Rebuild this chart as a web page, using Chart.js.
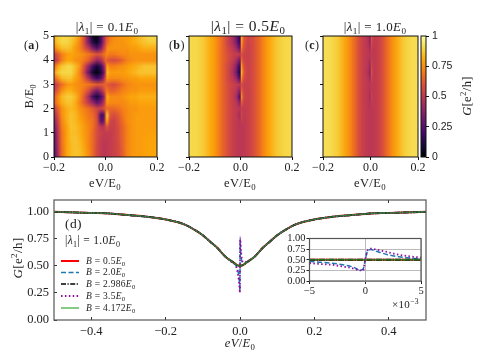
<!DOCTYPE html>
<html>
<head>
<meta charset="utf-8">
<script src="https://cdn.jsdelivr.net/npm/chart.js@4"></script>
<style>
html, body { margin: 0; padding: 0; background: #fff; overflow: hidden; }
#wrap { position: relative; width: 484px; height: 363px; }
#wrap div { position: absolute; left: 0; top: 0; width: 484px; height: 363px; }
</style>
</head>
<body>
<div id="wrap">
<div><canvas id="panelA" width="484" height="363"></canvas></div>
<div><canvas id="panelB" width="484" height="363"></canvas></div>
<div><canvas id="panelC" width="484" height="363"></canvas></div>
<div><canvas id="colorBar" width="484" height="363"></canvas></div>
<div><canvas id="panelD" width="484" height="363"></canvas></div>
<div><canvas id="inset" width="484" height="363"></canvas></div>
</div>
<script>
// values
const fieldTicks = [0, 1, 2, 3, 4, 5];
const fieldRows = [5, 4.75, 4.5, 4.25, 4, 3.75, 3.5, 3.25, 3, 2.75, 2.5, 2.25, 2, 1.75, 1.5, 1.25, 1, 0.75, 0.5, 0.25, 0];

const voltsA = [-0.2, -0.183, -0.167, -0.15, -0.133, -0.117, -0.1, -0.083, -0.067, -0.05, -0.033, -0.017, -0.004, 0, 0.004, 0.017, 0.033, 0.05, 0.067, 0.083, 0.1, 0.117, 0.133, 0.15, 0.167, 0.183, 0.2];
const mapA = [
  [.82,.88,.90,.90,.89,.85,.76,.60,.34,.06,.02,.22,.45,.58,.62,.70,.74,.76,.78,.78,.80,.82,.85,.88,.90,.90,.90],
  [.80,.87,.90,.90,.87,.82,.72,.58,.36,.12,.06,.22,.45,.60,.66,.72,.76,.76,.76,.78,.80,.82,.84,.86,.88,.88,.88],
  [.70,.80,.85,.86,.84,.78,.72,.62,.52,.34,.24,.36,.55,.64,.75,.76,.76,.76,.76,.76,.78,.78,.80,.82,.82,.82,.82],
  [.52,.62,.72,.78,.80,.78,.76,.74,.70,.64,.60,.62,.68,.72,.74,.70,.70,.72,.74,.74,.76,.76,.76,.76,.76,.76,.76],
  [.46,.58,.72,.80,.80,.76,.74,.70,.64,.52,.40,.46,.58,.68,.62,.60,.58,.60,.66,.72,.74,.76,.76,.76,.76,.76,.76],
  [.66,.80,.87,.90,.90,.85,.76,.60,.42,.20,.08,.20,.40,.62,.80,.72,.72,.74,.76,.78,.80,.82,.84,.86,.86,.86,.86],
  [.76,.87,.90,.90,.90,.84,.72,.56,.32,.08,.02,.12,.30,.62,.85,.78,.78,.78,.78,.80,.82,.84,.86,.86,.86,.86,.86],
  [.62,.74,.84,.86,.86,.80,.74,.64,.50,.30,.20,.28,.45,.66,.78,.74,.74,.74,.76,.76,.78,.78,.80,.80,.80,.80,.80],
  [.50,.58,.68,.76,.78,.76,.74,.72,.70,.66,.62,.62,.64,.66,.62,.60,.58,.62,.68,.72,.74,.76,.76,.76,.76,.76,.76],
  [.52,.64,.76,.82,.82,.78,.74,.68,.60,.44,.34,.44,.56,.68,.70,.64,.64,.68,.72,.74,.76,.76,.78,.78,.78,.78,.78],
  [.62,.74,.84,.88,.88,.84,.74,.62,.46,.20,.10,.22,.40,.66,.82,.74,.74,.74,.76,.78,.80,.80,.82,.82,.82,.82,.82],
  [.62,.74,.82,.86,.86,.82,.72,.62,.52,.40,.28,.36,.50,.68,.78,.74,.74,.74,.74,.76,.78,.78,.80,.80,.80,.80,.80],
  [.50,.64,.76,.82,.84,.82,.76,.72,.68,.62,.56,.56,.60,.66,.66,.66,.66,.68,.72,.74,.76,.76,.78,.78,.78,.78,.78],
  [.42,.60,.76,.82,.86,.84,.78,.74,.70,.66,.56,.22,.25,.72,.88,.62,.58,.62,.70,.74,.76,.78,.78,.78,.78,.78,.78],
  [.36,.55,.74,.82,.86,.84,.80,.76,.72,.68,.58,.25,.30,.70,.80,.56,.54,.60,.68,.74,.76,.78,.78,.78,.78,.78,.78],
  [.30,.52,.72,.80,.86,.85,.82,.78,.74,.68,.58,.50,.50,.58,.60,.54,.54,.58,.66,.72,.76,.78,.78,.78,.78,.78,.78],
  [.27,.50,.70,.80,.85,.85,.82,.78,.74,.66,.58,.54,.52,.52,.52,.52,.54,.58,.66,.72,.76,.78,.78,.78,.79,.79,.79],
  [.25,.48,.70,.80,.85,.86,.83,.79,.74,.66,.58,.52,.51,.51,.51,.52,.54,.58,.65,.72,.76,.78,.78,.79,.79,.80,.80],
  [.24,.47,.69,.80,.84,.86,.84,.80,.74,.66,.57,.52,.50,.50,.51,.52,.54,.57,.65,.72,.76,.78,.78,.79,.80,.80,.80],
  [.22,.46,.68,.80,.84,.86,.85,.81,.75,.66,.57,.52,.50,.50,.51,.52,.54,.57,.64,.72,.76,.78,.78,.79,.80,.80,.80],
  [.21,.45,.68,.80,.84,.86,.85,.82,.75,.66,.57,.52,.50,.50,.51,.52,.54,.56,.64,.72,.76,.78,.78,.79,.80,.80,.80]
];

const voltsBC = [-0.2, -0.17, -0.14, -0.11, -0.09, -0.07, -0.05, -0.03, -0.015, -0.008, -0.003, 0, 0.003, 0.008, 0.015, 0.03, 0.05, 0.07, 0.09, 0.11, 0.14, 0.17, 0.2];
const mapB = [
  [.91,.90,.87,.80,.74,.66,.54,.44,.30,.20,.16,.60,.85,.70,.62,.55,.58,.66,.74,.80,.87,.90,.91],
  [.91,.90,.87,.80,.74,.66,.54,.45,.32,.22,.20,.60,.82,.68,.60,.55,.58,.66,.74,.80,.87,.90,.91],
  [.91,.90,.87,.80,.74,.66,.56,.50,.42,.35,.30,.58,.75,.62,.58,.54,.58,.66,.74,.80,.87,.90,.91],
  [.91,.90,.87,.80,.74,.66,.58,.54,.52,.52,.50,.56,.60,.56,.55,.54,.58,.66,.74,.80,.87,.90,.91],
  [.91,.90,.87,.80,.74,.66,.58,.52,.44,.38,.32,.56,.70,.58,.55,.54,.58,.66,.74,.80,.87,.90,.91],
  [.91,.90,.87,.80,.74,.66,.56,.48,.34,.24,.18,.58,.82,.66,.58,.54,.58,.66,.74,.80,.87,.90,.91],
  [.91,.90,.87,.80,.74,.66,.56,.46,.30,.18,.12,.60,.88,.70,.60,.54,.58,.66,.74,.80,.87,.90,.91],
  [.91,.90,.87,.80,.74,.66,.56,.50,.40,.30,.25,.58,.80,.62,.57,.54,.58,.66,.74,.80,.87,.90,.91],
  [.91,.90,.87,.80,.74,.66,.58,.54,.52,.50,.50,.55,.58,.55,.54,.54,.58,.66,.74,.80,.87,.90,.91],
  [.91,.90,.87,.80,.74,.66,.58,.53,.48,.42,.38,.54,.68,.58,.54,.53,.58,.66,.74,.80,.87,.90,.91],
  [.91,.90,.87,.80,.74,.66,.58,.52,.44,.32,.22,.56,.80,.62,.55,.53,.58,.66,.74,.80,.87,.90,.91],
  [.91,.90,.87,.80,.74,.66,.58,.53,.49,.44,.38,.54,.66,.56,.53,.53,.58,.66,.74,.80,.87,.90,.91],
  [.91,.90,.87,.80,.74,.66,.58,.53,.51,.50,.50,.51,.53,.52,.52,.53,.58,.66,.74,.80,.87,.90,.91],
  [.91,.90,.87,.80,.74,.66,.58,.53,.51,.48,.44,.52,.58,.52,.51,.53,.58,.66,.74,.80,.87,.90,.91],
  [.91,.90,.87,.80,.74,.66,.58,.53,.51,.50,.48,.51,.54,.51,.51,.53,.58,.66,.74,.80,.87,.90,.91],
  [.91,.90,.87,.80,.74,.66,.58,.53,.51,.50,.50,.50,.50,.50,.51,.53,.58,.66,.74,.80,.87,.90,.91],
  [.91,.90,.87,.80,.74,.66,.58,.53,.51,.50,.50,.50,.50,.50,.51,.53,.58,.66,.74,.80,.87,.90,.91],
  [.91,.90,.87,.80,.74,.66,.58,.53,.51,.50,.50,.50,.50,.50,.51,.53,.58,.66,.74,.80,.87,.90,.91],
  [.91,.90,.87,.80,.74,.66,.58,.53,.51,.50,.50,.50,.50,.50,.51,.53,.58,.66,.74,.80,.87,.90,.91],
  [.91,.90,.87,.80,.74,.66,.58,.53,.51,.50,.50,.50,.50,.50,.51,.53,.58,.66,.74,.80,.87,.90,.91],
  [.91,.90,.87,.80,.74,.66,.58,.53,.51,.50,.50,.50,.50,.50,.51,.53,.58,.66,.74,.80,.87,.90,.91]
];
const mapC = [
  [.92,.91,.88,.81,.75,.67,.58,.53,.49,.44,.34,.52,.66,.56,.52,.53,.58,.67,.75,.81,.88,.91,.92],
  [.92,.91,.88,.81,.75,.67,.58,.53,.50,.46,.38,.52,.62,.55,.52,.53,.58,.67,.75,.81,.88,.91,.92],
  [.92,.91,.88,.81,.75,.67,.58,.53,.50,.48,.44,.51,.56,.52,.51,.53,.58,.67,.75,.81,.88,.91,.92],
  [.92,.91,.88,.81,.75,.67,.58,.53,.51,.50,.50,.50,.52,.51,.51,.53,.58,.67,.75,.81,.88,.91,.92],
  [.92,.91,.88,.81,.75,.67,.58,.53,.50,.48,.45,.51,.56,.52,.51,.53,.58,.67,.75,.81,.88,.91,.92],
  [.92,.91,.88,.81,.75,.67,.58,.53,.50,.46,.40,.51,.60,.54,.51,.53,.58,.67,.75,.81,.88,.91,.92],
  [.92,.91,.88,.81,.75,.67,.58,.53,.49,.44,.36,.51,.64,.55,.51,.53,.58,.67,.75,.81,.88,.91,.92],
  [.92,.91,.88,.81,.75,.67,.58,.53,.50,.47,.42,.51,.58,.53,.51,.53,.58,.67,.75,.81,.88,.91,.92],
  [.92,.91,.88,.81,.75,.67,.58,.53,.51,.50,.50,.50,.52,.51,.51,.53,.58,.67,.75,.81,.88,.91,.92],
  [.92,.91,.88,.81,.75,.67,.58,.53,.51,.49,.47,.50,.54,.51,.51,.53,.58,.67,.75,.81,.88,.91,.92],
  [.92,.91,.88,.81,.75,.67,.58,.53,.50,.48,.44,.50,.56,.52,.51,.53,.58,.67,.75,.81,.88,.91,.92],
  [.92,.91,.88,.81,.75,.67,.58,.53,.51,.49,.47,.50,.53,.51,.51,.53,.58,.67,.75,.81,.88,.91,.92],
  [.92,.91,.88,.81,.75,.67,.58,.53,.51,.50,.50,.50,.50,.50,.51,.53,.58,.67,.75,.81,.88,.91,.92],
  [.92,.91,.88,.81,.75,.67,.58,.53,.51,.50,.50,.50,.50,.50,.51,.53,.58,.67,.75,.81,.88,.91,.92],
  [.92,.91,.88,.81,.75,.67,.58,.53,.51,.50,.50,.50,.50,.50,.51,.53,.58,.67,.75,.81,.88,.91,.92],
  [.92,.91,.88,.81,.75,.67,.58,.53,.51,.50,.50,.50,.50,.50,.51,.53,.58,.67,.75,.81,.88,.91,.92],
  [.92,.91,.88,.81,.75,.67,.58,.53,.51,.50,.50,.50,.50,.50,.51,.53,.58,.67,.75,.81,.88,.91,.92],
  [.92,.91,.88,.81,.75,.67,.58,.53,.51,.50,.50,.50,.50,.50,.51,.53,.58,.67,.75,.81,.88,.91,.92],
  [.92,.91,.88,.81,.75,.67,.58,.53,.51,.50,.50,.50,.50,.50,.51,.53,.58,.67,.75,.81,.88,.91,.92],
  [.92,.91,.88,.81,.75,.67,.58,.53,.51,.50,.50,.50,.50,.50,.51,.53,.58,.67,.75,.81,.88,.91,.92],
  [.92,.91,.88,.81,.75,.67,.58,.53,.51,.50,.50,.50,.50,.50,.51,.53,.58,.67,.75,.81,.88,.91,.92]
];

const barLevels = [1, 0.9, 0.8, 0.7, 0.6, 0.5, 0.4, 0.3, 0.2, 0.1, 0];
const barTicks = [0, 0.25, 0.5, 0.75, 1];

const energy = [-0.5, -0.4, -0.35, -0.3, -0.25, -0.2, -0.15, -0.12, -0.1, -0.08, -0.06, -0.04, -0.02, -0.01, -0.003, -0.001, -0.0003, 0, 0.0003, 0.0005, 0.001, 0.003, 0.01, 0.02, 0.04, 0.06, 0.08, 0.1, 0.12, 0.15, 0.2, 0.25, 0.3, 0.35, 0.4, 0.5];
const flatCurve = [.995,.985,.98,.965,.95,.925,.88,.825,.78,.72,.66,.585,.535,.51,.5,.5,.5,.5,.5,.5,.5,.5,.51,.535,.585,.66,.72,.78,.825,.88,.925,.95,.965,.98,.985,.995];
const curve20 = [.995,.985,.98,.965,.95,.925,.88,.825,.78,.72,.66,.585,.53,.495,.40,.32,.27,.5,.70,.74,.70,.57,.525,.535,.585,.66,.72,.78,.825,.88,.925,.95,.965,.98,.985,.995];
const curve35 = [.995,.985,.98,.965,.95,.925,.88,.825,.78,.72,.66,.585,.525,.49,.36,.29,.25,.5,.72,.76,.74,.62,.53,.54,.585,.66,.72,.78,.825,.88,.925,.95,.965,.98,.985,.995];

const energyZoom = [-5, -4, -3, -2, -1, -0.5, -0.2, 0, 0.2, 0.5, 1, 2, 3, 4, 5];
const zoomFlat = [.5, .5, .5, .5, .5, .5, .5, .5, .5, .5, .5, .5, .5, .5, .5];
const zoom20 = [.46, .44, .42, .38, .32, .26, .28, .5, .70, .74, .70, .62, .57, .54, .52];
const zoom35 = [.42, .40, .38, .34, .29, .25, .25, .5, .72, .76, .74, .68, .62, .58, .55];

const serif = '"Liberation Serif", serif';
const ink = '#222';

const infernoStops = ['#000004', '#160b39', '#420a68', '#6a176e', '#932667', '#bc3754', '#dd513a', '#f37819', '#fca50a', '#f6d746', '#fcffa4'];

function inferno(v) {
    let p = Math.min(Math.max(v, 0), 1) * 10;
    let i = Math.min(Math.floor(p), 9);
    let f = p - i;
    let a = parseInt(infernoStops[i].slice(1), 16);
    let b = parseInt(infernoStops[i + 1].slice(1), 16);
    let mix = s => Math.round(((a >> s) & 255) * (1 - f) + ((b >> s) & 255) * f);
    return `rgb(${mix(16)},${mix(8)},${mix(0)})`;
}

// mixed roman / italic / sub / sup text, since canvas has no rich text
function drawRuns(ctx, x, y, runs, size, opts) {
    opts = opts || {};
    let fontFor = r => {
        let s = r[1] || '';
        let small = s === 'sub' || s === 'sup';
        let px = small ? size * 0.7 : size;
        return `${s === 'b' ? 'bold ' : ''}${s === 'i' ? 'italic ' : ''}${px}px ${serif}`;
    };
    ctx.save();
    ctx.fillStyle = opts.color || ink;
    ctx.textBaseline = 'alphabetic';
    ctx.textAlign = 'left';
    ctx.letterSpacing = (size * 0.03).toFixed(2) + 'px';
    let w = 0;
    runs.forEach(r => { ctx.font = fontFor(r); w += ctx.measureText(r[0]).width; });
    ctx.translate(x, y);
    if (opts.rotate) ctx.rotate(opts.rotate);
    let cx = opts.align === 'left' ? 0 : -w / 2;
    runs.forEach(r => {
        let s = r[1] || '';
        let dy = s === 'sub' ? size * 0.22 : (s === 'sup' ? -size * 0.38 : 0);
        ctx.font = fontFor(r);
        ctx.fillText(r[0], cx, dy);
        cx += ctx.measureText(r[0]).width;
    });
    ctx.restore();
}

const lambdaRuns = v => [['|'], ['λ', 'i'], ['1', 'sub'], ['| = ' + v], ['E', 'i'], ['0', 'sub']];
const overE0 = first => [[first], ['/E'], ['0', 'sub']];
const gRuns = [['G', 'i'], ['[e'], ['2', 'sup'], ['/h]']];

const minusFix = s => String(s).replace('-', '−');

// axis boxes get a fixed size so each plot lands where the picture has it
const fixedHeight = h => scale => { scale.height = h; };
const fixedWidth = w => scale => { scale.width = w; };
const axisW = 50, axisH = 26;

function box(left, top, right, bottom, yw, xh) {
    return {
        autoPadding: false,
        padding: { left: left - yw, top: top, right: 484 - right, bottom: 363 - bottom - xh }
    };
}

// the cell image is stretched onto the plot through the scales
const heatPlugin = {
    id: 'heat',
    beforeDatasetsDraw(chart, args, o) {
        let { x: xs, y: ys } = chart.scales;
        let cols = o.xs, rows = o.rows;
        let img = document.createElement('canvas');
        img.width = cols.length;
        img.height = rows.length;
        let ic = img.getContext('2d');
        rows.forEach((row, j) => row.forEach((v, i) => {
            ic.fillStyle = inferno(v);
            ic.fillRect(i, j, 1, 1);
        }));
        let ctx = chart.ctx;
        ctx.save();
        ctx.imageSmoothingEnabled = true;
        let top = Math.round(ys.getPixelForValue(o.ys[0]));
        let bottom = Math.round(ys.getPixelForValue(o.ys[o.ys.length - 1]));
        for (let i = 0; i < cols.length - 1; i++) {
            let l = Math.round(xs.getPixelForValue(cols[i]));
            let r = Math.round(xs.getPixelForValue(cols[i + 1]));
            if (r > l) ctx.drawImage(img, i + 0.5, 0.5, 1, rows.length - 1, l, top, r - l, bottom - top);
        }
        ctx.restore();
    },
    afterDatasetsDraw(chart) {
        let a = chart.chartArea, ctx = chart.ctx;
        ctx.save();
        ctx.strokeStyle = '#111';
        ctx.lineWidth = 1;
        ctx.strokeRect(a.left, a.top, a.right - a.left, a.bottom - a.top);
        ctx.restore();
    }
};

const notesPlugin = {
    id: 'notes',
    afterDraw(chart, args, o) {
        if (o.draw) o.draw(chart.ctx, chart);
    }
};

function heatPanel(id, rect, xs, rows, ys, showY, notes) {
    let cells = [];
    rows.forEach((row, j) => row.forEach((v, i) => cells.push({ x: xs[i], y: ys[j], v: v })));
    return new Chart(document.getElementById(id), {
        type: 'scatter',
        data: { datasets: [{ data: cells, pointRadius: 0, showLine: false }] },
        plugins: [heatPlugin, notesPlugin],
        options: {
            responsive: false, animation: false, layout: box(...rect, axisW, axisH),
            plugins: {
                legend: { display: false }, tooltip: { enabled: false },
                heat: { xs: xs, ys: ys, rows: rows },
                notes: { draw: notes }
            },
            scales: {
                x: {
                    type: 'linear', min: -0.2, max: 0.2, afterFit: fixedHeight(axisH),
                    afterBuildTicks: s => { s.ticks = [-0.2, 0, 0.2].map(v => ({ value: v })); },
                    grid: { display: true, drawOnChartArea: false, tickLength: 3, tickColor: '#111', tickWidth: 1 },
                    border: { display: false },
                    ticks: { color: ink, font: { family: serif, size: 12 }, padding: 1, maxRotation: 0, autoSkip: false,
                        callback: v => minusFix(v.toFixed(1)) }
                },
                y: {
                    type: 'linear', min: 0, max: 5, afterFit: fixedWidth(axisW),
                    afterBuildTicks: s => { s.ticks = fieldTicks.map(v => ({ value: v })); },
                    grid: { display: true, drawOnChartArea: false, tickLength: 3, tickColor: '#111', tickWidth: 1 },
                    border: { display: false },
                    ticks: { display: showY, color: ink, font: { family: serif, size: 12 }, padding: 2 }
                }
            }
        }
    });
}

heatPanel('panelA', [54, 36, 157, 157], voltsA, mapA, fieldRows, true, ctx => {
    drawRuns(ctx, 107, 31, lambdaRuns('0.1'), 13);
    drawRuns(ctx, 24, 49, [['('], ['a', 'b'], [')']], 12, { align: 'left' });
    drawRuns(ctx, 105, 187, overE0('eV'), 12.5);
    drawRuns(ctx, 33, 96, overE0('B'), 12, { rotate: -Math.PI / 2 });
});
heatPanel('panelB', [189, 36, 292, 157], voltsBC, mapB, fieldRows, false, ctx => {
    drawRuns(ctx, 248, 31, lambdaRuns('0.5'), 15.5);
    drawRuns(ctx, 169, 49, [['('], ['b', 'b'], [')']], 12, { align: 'left' });
    drawRuns(ctx, 240, 187, overE0('eV'), 12.5);
});
heatPanel('panelC', [323, 36, 418, 157], voltsBC, mapC, fieldRows, false, ctx => {
    drawRuns(ctx, 375, 31, lambdaRuns('1.0'), 13);
    drawRuns(ctx, 305, 49, [['('], ['c', 'b'], [')']], 12, { align: 'left' });
    drawRuns(ctx, 370, 187, overE0('eV'), 12.5);
});

// colour bar
new Chart(document.getElementById('colorBar'), {
    type: 'scatter',
    data: { datasets: [{ data: barLevels.map(v => ({ x: 0, y: v })), pointRadius: 0, showLine: false }] },
    plugins: [heatPlugin, notesPlugin],
    options: {
        responsive: false, animation: false,
        layout: { autoPadding: false, padding: { left: 421, top: 36, right: 484 - 426 - 30, bottom: 363 - 157 } },
        plugins: {
            legend: { display: false }, tooltip: { enabled: false },
            heat: { xs: [0, 1], ys: barLevels, rows: barLevels.map(v => [v, v]) },
            notes: { draw: ctx => drawRuns(ctx, 471, 96, gRuns, 12.5, { rotate: -Math.PI / 2 }) }
        },
        scales: {
            x: { type: 'linear', min: 0, max: 1, display: false },
            y: {
                type: 'linear', position: 'right', min: 0, max: 1, afterFit: fixedWidth(30),
                afterBuildTicks: s => { s.ticks = barTicks.map(v => ({ value: v })); },
                grid: { display: true, drawOnChartArea: false, tickLength: 3, tickColor: '#111' },
                border: { display: false },
                ticks: { color: ink, font: { family: '"Liberation Sans", sans-serif', size: 10.5 }, padding: 3, callback: v => String(v) }
            }
        }
    }
});

function lineSets(xs, flat, blue, purple) {
    let pts = ys => ys.map((y, i) => ({ x: xs[i], y: y }));
    let common = { pointRadius: 0, fill: false, showLine: true, cubicInterpolationMode: 'monotone' };
    // chart.js paints low order last, so green ends up on top
    return [
        { ...common, order: 5, label: 'B = 0.5E0', data: pts(flat), borderColor: '#ff0000', borderWidth: 2 },
        { ...common, order: 4, label: 'B = 2.0E0', data: pts(blue), borderColor: '#1f77b4', borderWidth: 1.5, borderDash: [5, 2.5] },
        { ...common, order: 3, label: 'B = 2.986E0', data: pts(flat), borderColor: '#000', borderWidth: 1.8, borderDash: [6, 1, 1.5, 1] },
        { ...common, order: 2, label: 'B = 3.5E0', data: pts(purple), borderColor: '#8f0ea0', borderWidth: 1.8, borderDash: [1.5, 2.4] },
        { ...common, order: 1, label: 'B = 4.172E0', data: pts(flat), borderColor: 'rgba(44,160,44,0.7)', borderWidth: 1.5 }
    ];
}

const framePlugin = {
    id: 'frame',
    afterDatasetsDraw(chart) {
        let a = chart.chartArea, ctx = chart.ctx;
        ctx.save();
        ctx.strokeStyle = '#555';
        ctx.lineWidth = 1.2;
        ctx.strokeRect(a.left, a.top, a.right - a.left, a.bottom - a.top);
        ctx.restore();
    }
};

const legendRows = [
    { y: 261, runs: '0.5', color: '#ff0000', w: 2, dash: [] },
    { y: 272.5, runs: '2.0', color: '#1f77b4', w: 1.5, dash: [5, 2.5] },
    { y: 284, runs: '2.986', color: '#000', w: 1.5, dash: [5, 1.5, 1.2, 1.5] },
    { y: 296, runs: '3.5', color: '#8f0ea0', w: 1.8, dash: [1.5, 2.4] },
    { y: 308, runs: '4.172', color: '#5cb85c', w: 1.5, dash: [] }
];

new Chart(document.getElementById('panelD'), {
    type: 'scatter',
    data: { datasets: lineSets(energy, flatCurve, curve20, curve35) },
    plugins: [framePlugin, notesPlugin],
    options: {
        responsive: false, animation: false, layout: box(54, 200, 426, 320, axisW, axisH),
        plugins: {
            legend: { display: false }, tooltip: { enabled: false },
            notes: {
                draw: ctx => {
                    drawRuns(ctx, 65, 228, [['(d)']], 13.5, { align: 'left' });
                    drawRuns(ctx, 65, 244, lambdaRuns('1.0'), 11.5, { align: 'left' });
                    legendRows.forEach(r => {
                        ctx.save();
                        ctx.strokeStyle = r.color;
                        ctx.lineWidth = r.w;
                        ctx.setLineDash(r.dash);
                        ctx.beginPath();
                        ctx.moveTo(61, r.y);
                        ctx.lineTo(79, r.y);
                        ctx.stroke();
                        ctx.restore();
                        drawRuns(ctx, 86, r.y + 2.5, [['B', 'i'], [' = ' + r.runs], ['E', 'i'], ['0', 'sub']], 9.5, { align: 'left' });
                    });
                    drawRuns(ctx, 240, 347, [['eV', 'i'], ['/'], ['E', 'i'], ['0', 'sub']], 12.5);
                    drawRuns(ctx, 22, 258, gRuns, 13, { rotate: -Math.PI / 2 });
                }
            }
        },
        scales: {
            x: {
                type: 'linear', min: -0.5, max: 0.5, afterFit: fixedHeight(axisH),
                afterBuildTicks: s => { s.ticks = [-0.4, -0.2, 0, 0.2, 0.4].map(v => ({ value: v })); },
                grid: { display: true, drawOnChartArea: false, tickLength: -3, tickColor: '#333' },
                border: { display: false },
                ticks: { color: ink, font: { family: serif, size: 12.5 }, padding: 7, maxRotation: 0, autoSkip: false,
                    callback: v => minusFix(v.toFixed(1)) }
            },
            xTop: {
                type: 'linear', position: 'top', min: -0.5, max: 0.5, afterFit: fixedHeight(0),
                afterBuildTicks: s => { s.ticks = [-0.4, -0.2, 0, 0.2, 0.4].map(v => ({ value: v })); },
                grid: { display: true, drawOnChartArea: false, tickLength: -3, tickColor: '#333' },
                border: { display: false },
                ticks: { display: false }
            },
            y: {
                type: 'linear', min: 0, max: 1.104, afterFit: fixedWidth(axisW),
                afterBuildTicks: s => { s.ticks = [0, 0.25, 0.5, 0.75, 1].map(v => ({ value: v })); },
                grid: { display: true, drawOnChartArea: false, tickLength: -3, tickColor: '#333' },
                border: { display: false },
                ticks: { color: ink, font: { family: serif, size: 12.5 }, padding: 8, autoSkip: false, callback: v => v.toFixed(2) }
            }
        }
    }
});

// inset, zoom around zero bias
new Chart(document.getElementById('inset'), {
    type: 'scatter',
    data: { datasets: lineSets(energyZoom, zoomFlat, zoom20, zoom35) },
    plugins: [framePlugin, notesPlugin],
    options: {
        responsive: false, animation: false, layout: box(309.5, 238.5, 421, 281, 30, 18),
        plugins: {
            legend: { display: false }, tooltip: { enabled: false },
            notes: {
                draw: ctx => drawRuns(ctx, 392, 308, [['×10'], ['−3', 'sup']], 11, { align: 'left' })
            }
        },
        scales: {
            x: {
                type: 'linear', min: -5, max: 5, afterFit: fixedHeight(18),
                afterBuildTicks: s => { s.ticks = [-5, 0, 5].map(v => ({ value: v })); },
                grid: { display: true, color: '#bbb', tickLength: 3, tickColor: '#222' },
                border: { display: false },
                ticks: { color: ink, font: { family: serif, size: 10.5 }, padding: 1, maxRotation: 0, autoSkip: false,
                    callback: v => minusFix(v) }
            },
            y: {
                type: 'linear', min: 0, max: 1, afterFit: fixedWidth(30),
                afterBuildTicks: s => { s.ticks = [0, 0.25, 0.5, 0.75, 1].map(v => ({ value: v })); },
                grid: { display: true, color: '#bbb', tickLength: 3, tickColor: '#222' },
                border: { display: false },
                ticks: { color: ink, font: { family: serif, size: 10.5 }, padding: 1, autoSkip: false, callback: v => v.toFixed(2) }
            }
        }
    }
});
</script>
</body>
</html>
